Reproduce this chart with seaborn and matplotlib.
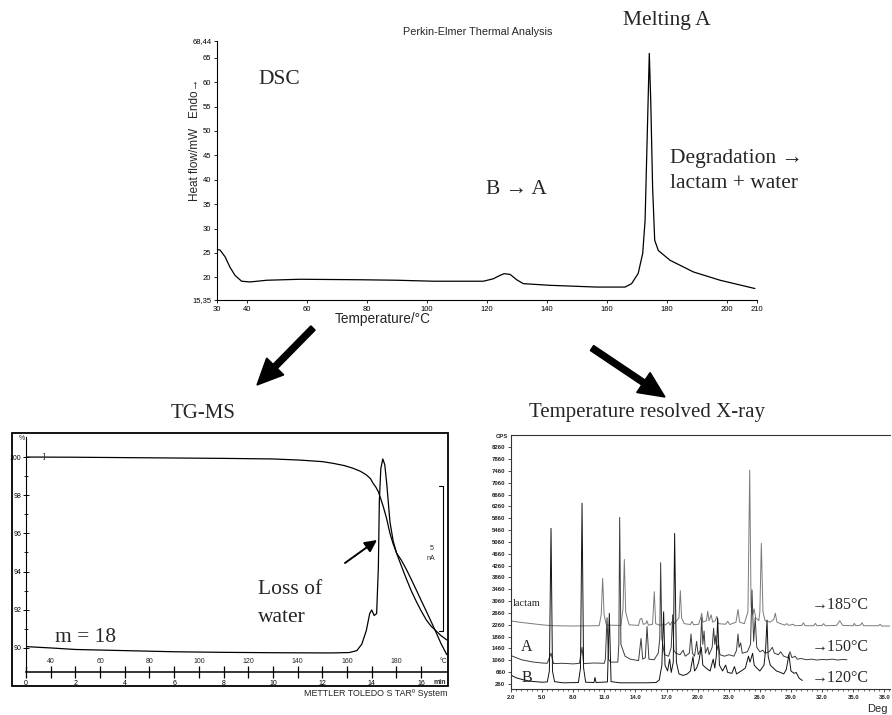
import matplotlib
matplotlib.use("Agg")
import matplotlib.pyplot as plt
import seaborn as sns
from matplotlib.patches import Rectangle, FancyArrow
from matplotlib.ticker import MultipleLocator

# ---------------- DSC data ----------------
dsc_temp = [30.0, 31.0, 32.7, 34.3, 36.0, 38.2, 41.0, 46.6, 57.7, 77.7, 90.0, 102.1, 118.8,
            122.1, 124.0, 125.7, 127.7, 129.9, 132.1, 141.0, 156.6, 166.0, 168.2, 170.4,
            171.9, 172.7, 173.4, 174.1, 174.6, 175.2, 175.9, 177.1, 181.0, 188.8, 197.7, 209.3]
dsc_heat = [25.7, 25.6, 24.2, 22.1, 20.4, 19.2, 19.05, 19.4, 19.6, 19.5, 19.4, 19.2, 19.2,
            19.7, 20.3, 20.75, 20.6, 19.5, 18.7, 18.36, 18.0, 18.0, 18.7, 20.8,
            24.9, 31.7, 48.8, 65.9, 55.7, 38.5, 27.6, 25.5, 23.5, 21.1, 19.4, 17.7]
dsc_xticks = [30, 40, 60, 80, 100, 120, 140, 160, 180, 200, 210]
dsc_yticks = [15.35, 20, 25, 30, 35, 40, 45, 50, 55, 60, 65, 68.44]
dsc_yticklabels = ["15,35", "20", "25", "30", "35", "40", "45", "50", "55", "60", "65", "68,44"]

# ---------------- TG-MS data (time in min) ----------------
tg_min = [0, 2, 4, 6, 8, 10, 11.1, 12.0, 12.44, 12.9, 13.25, 13.55, 13.79, 13.95, 14.06, 14.17,
          14.27, 14.37, 14.47, 14.6, 14.74, 14.87, 15.01, 15.2, 15.41, 15.6, 15.82, 16.0,
          16.22, 16.4, 16.56, 16.8, 17.04]
tg_mass = [100.0, 99.99, 99.97, 99.95, 99.93, 99.9, 99.84, 99.76, 99.67, 99.55, 99.41, 99.25,
           99.06, 98.87, 98.62, 98.42, 98.18, 97.8, 97.4, 96.8, 96.0, 95.45, 94.96, 94.3, 93.6,
           93.0, 92.4, 91.95, 91.45, 91.15, 90.95, 90.65, 90.42]
ms_min = [0, 1, 2, 4, 6, 8, 10, 12, 12.44, 13.1, 13.4, 13.6, 13.78, 13.92, 14.0, 14.1, 14.2,
          14.27, 14.31, 14.37, 14.45, 14.53, 14.61, 14.74, 14.87, 15.01, 15.2, 15.41, 15.6,
          15.82, 16.0, 16.22, 16.4, 16.56, 16.8, 17.04]
ms_signal = [90.07, 90.0, 89.92, 89.86, 89.8, 89.77, 89.75, 89.74, 89.74, 89.76, 89.86, 90.2,
             90.9, 91.8, 91.99, 91.7, 91.8, 94.2, 97.7, 99.4, 99.9, 99.6, 98.6, 96.6, 95.6,
             94.96, 94.6, 94.1, 93.6, 93.0, 92.5, 91.9, 91.4, 90.95, 90.25, 89.65]
tg_yticks = [90, 92, 94, 96, 98, 100]
tg_yminor = [91, 93, 95, 97, 99]
tg_min_ticks = [0, 1, 2, 3, 4, 5, 6, 7, 8, 9, 10, 11, 12, 13, 14, 15, 16]
tg_min_labels = ["0", "", "2", "", "4", "", "6", "", "8", "", "10", "", "12", "", "14", "", "16"]
tg_temp_labels = ["40", "60", "80", "100", "120", "140", "160", "180"]
tg_temp_at_min = [1, 3, 5, 7, 9, 11, 13, 15]

# ---------------- X-ray data ----------------
xrd_b_deg = [2.0, 2.5, 3.0, 3.5, 4.0, 5.0, 5.5, 5.7, 5.86, 6.0, 6.2, 7.0, 8.5, 8.7, 8.85, 9.0, 9.2,
             10.0, 10.1, 10.2, 11.3, 11.48, 11.65, 12.5, 15.0, 16.0, 16.3, 16.55, 16.72, 16.85,
             17.1, 17.3, 17.45, 17.65, 17.78, 17.95, 18.2, 18.6, 19.0, 19.3, 19.55, 19.7, 19.9,
             20.1, 20.35, 20.5, 20.8, 21.2, 21.5, 21.65, 21.8, 21.93, 22.1, 22.4, 22.7, 22.9,
             23.3, 23.55, 23.75, 24.2, 24.6, 24.9, 25.05, 25.3, 25.45, 25.7, 26.0, 26.4, 26.55,
             26.69, 26.8, 27.0, 27.3, 27.6, 28.0, 28.3, 28.55, 28.8, 29.0, 29.3, 29.5, 29.8, 30.1]
xrd_b_cps = [560, 470, 420, 380, 350, 320, 330, 700, 5520, 700, 340, 300, 310, 800, 6370, 800, 320,
             310, 480, 310, 330, 2650, 340, 300, 300, 310, 400, 900, 2700, 900,
             700, 1100, 650, 1000, 5350, 1000, 600, 550, 600, 700, 1180, 700, 800,
             1000, 1500, 900, 800, 700, 1100, 800, 1200, 2480, 900, 700, 900, 650,
             620, 850, 600, 700, 800, 1200, 1000, 1300, 900, 800, 700, 900, 1400,
             2420, 1200, 900, 800, 700, 650, 600, 750, 1250, 700, 620, 650, 450, 380]
xrd_a_deg = [2.0, 2.5, 3.0, 4.0, 5.0, 5.5, 5.86, 6.1, 7.0, 8.0, 8.6, 8.85, 9.0, 10.0, 11.0, 11.1,
             11.26, 11.4, 11.6, 12.3, 12.4, 12.48, 12.6, 12.8, 13.0, 13.5, 14.3, 14.54, 14.7,
             14.95, 15.12, 15.3, 15.8, 16.2, 16.35, 16.43, 16.55, 16.8, 17.2, 17.45, 17.59,
             17.7, 17.9, 18.3, 18.6, 18.8, 19.2, 19.36, 19.5, 19.7, 19.9, 20.05, 20.25, 20.39,
             20.5, 20.62, 20.75, 20.97, 21.1, 21.4, 21.54, 21.65, 21.75, 21.85, 22.0, 22.15,
             22.6, 23.0, 23.5, 23.75, 23.89, 24.0, 24.15, 24.3, 24.8, 25.1, 25.24, 25.4, 25.55,
             25.7, 26.0, 26.3, 26.5, 26.9, 27.2, 27.4, 27.8, 28.0, 28.3, 28.7, 28.9, 29.1, 29.4,
             29.6, 30.0, 30.5, 31.0, 31.5, 32.0, 32.5, 33.0, 33.5, 34.0, 34.4]
xrd_a_cps = [1220, 1150, 1080, 1010, 970, 960, 1300, 950, 960, 940, 960, 1500, 950, 970, 960, 1100,
             2500, 1100, 1000, 1000, 1600, 5890, 1600, 1400, 1200, 1100, 1050, 1800, 1100,
             1150, 2200, 1100, 1080, 1300, 1800, 4360, 1800, 1250, 1200, 1500, 2600,
             1400, 1300, 1250, 1400, 1200, 1300, 1950, 1300, 1200, 1700, 1250, 1400, 2500,
             1600, 2050, 1300, 1500, 1250, 1500, 2150, 1600, 1900, 1400, 1600, 1250,
             1200, 1250, 1200, 1400, 1950, 1500, 1650, 1300, 1350, 1600, 3440, 1700, 2500,
             1500, 1350, 1400, 1300, 1350, 1500, 1300, 1250, 1350, 1200, 1150, 1350, 1150, 1200,
             1100, 1120, 1080, 1100, 1070, 1090, 1080, 1100, 1070, 1090, 1080]
xrd_l_deg = [2.0, 3.0, 4.0, 5.0, 6.0, 8.0, 10.5, 10.7, 10.84, 10.98, 11.2, 12.6, 12.8, 12.93,
             13.06, 13.2, 13.4, 14.3, 14.45, 14.6, 14.75, 15.0, 15.1, 15.25, 15.65, 15.82,
             15.95, 16.3, 16.9, 17.2, 17.35, 17.6, 17.75, 18.2, 18.33, 18.45, 18.7, 19.3,
             19.45, 19.6, 20.1, 20.3, 20.39, 20.5, 20.85, 20.97, 21.1, 21.3, 21.45, 21.7,
             21.85, 22.0, 22.7, 22.9, 23.1, 23.7, 23.89, 24.05, 24.5, 24.85, 25.02, 25.15,
             25.3, 25.45, 25.6, 25.9, 26.0, 26.14, 26.3, 26.5, 27.0, 27.35, 27.49, 27.65,
             28.0, 28.4, 28.6, 28.8, 29.2, 29.4, 30.05, 30.2, 30.35, 31.2, 31.35, 31.5, 32.0,
             32.15, 32.3, 33.4, 33.7, 34.0, 35.0, 35.1, 35.25, 35.7, 35.85, 36.0, 37.45, 37.6,
             37.75, 38.55]
xrd_l_cps = [2390, 2340, 2300, 2260, 2230, 2220, 2230, 2600, 3830, 2600, 2250, 2240, 2800, 4470,
             2700, 2500, 2260, 2240, 2450, 2480, 2280, 2300, 2400, 2250, 2280, 3380,
             2300, 2250, 2260, 2350, 2250, 2400, 2300, 2500, 3415, 2500, 2300, 2270,
             2380, 2260, 2280, 2500, 2650, 2350, 2400, 2720, 2400, 2600, 2350, 2400,
             2550, 2300, 2280, 2380, 2270, 2350, 2780, 2350, 2300, 2700, 7490, 2900,
             2600, 2800, 2500, 2400, 2700, 5015, 2700, 2400, 2350, 2450, 2650, 2350,
             2300, 2250, 2300, 2240, 2280, 2230, 2240, 2330, 2230, 2230, 2310, 2230, 2240,
             2300, 2230, 2240, 2400, 2240, 2230, 2310, 2230, 2250, 2330, 2230, 2230, 2280,
             2220, 2220]
xrd_xticks = [2.0, 5.0, 8.0, 11.0, 14.0, 17.0, 20.0, 23.0, 26.0, 29.0, 32.0, 35.0, 38.0]
xrd_yticks = [260, 660, 1060, 1460, 1860, 2260, 2660, 3060, 3460, 3860, 4260, 4660, 5060,
              5460, 5860, 6260, 6660, 7060, 7460, 7860, 8260]

# ---------------- layout helpers ----------------
W, H = 892, 715
def box(x0, y0, x1, y1):
    return [x0 / W, 1 - y1 / H, (x1 - x0) / W, (y1 - y0) / H]

sns.set_theme(style="ticks")
plt.rcParams['font.family'] = ['Liberation Sans', 'DejaVu Sans']
SERIF = ['Liberation Serif', 'DejaVu Serif']

fig = plt.figure(figsize=(W / 100, H / 100), dpi=100)
fig.patch.set_facecolor('white')

# ---------------- DSC ----------------
ax1 = fig.add_axes(box(217, 41, 757, 300))
ax1.patch.set_alpha(0)
sns.lineplot(x=dsc_temp, y=dsc_heat, ax=ax1, color='black', lw=0.9, estimator=None, sort=False)
ax1.set_xlim(30, 210)
ax1.set_ylim(15.35, 68.44)
for s in ['top', 'right']:
    ax1.spines[s].set_visible(False)
for s in ['left', 'bottom']:
    ax1.spines[s].set_color('black')
    ax1.spines[s].set_linewidth(0.8)
ax1.set_xticks(dsc_xticks)
ax1.set_xticklabels([str(v) for v in dsc_xticks])
ax1.set_yticks(dsc_yticks)
ax1.set_yticklabels(dsc_yticklabels)
ax1.tick_params(direction='out', length=2, width=0.6, pad=2, labelsize=5.5, color='black', labelcolor='black')
ax1.set_xlabel('')
ax1.set_ylabel('')

# ---------------- TG-MS ----------------
ax2 = fig.add_axes(box(26, 437, 447, 672))
ax2.patch.set_alpha(0)
sns.lineplot(x=tg_min, y=tg_mass, ax=ax2, color='black', lw=0.9, estimator=None, sort=False)
sns.lineplot(x=ms_min, y=ms_signal, ax=ax2, color='black', lw=0.9, estimator=None, sort=False)
ax2.set_xlim(0, 17.05)
ax2.set_ylim(88.74, 101.05)
for s in ['top', 'right']:
    ax2.spines[s].set_visible(False)
ax2.spines['left'].set_color('black')
ax2.spines['left'].set_linewidth(0.8)
ax2.spines['bottom'].set_color('black')
ax2.spines['bottom'].set_linewidth(1.1)
ax2.set_yticks(tg_yticks)
ax2.set_yticklabels([str(v) for v in tg_yticks])
ax2.set_yticks(tg_yminor, minor=True)
ax2.set_xticks(tg_min_ticks)
ax2.set_xticklabels(tg_min_labels)
ax2.tick_params(axis='y', which='major', direction='inout', length=5, width=0.7, pad=1, labelsize=5, color='black', labelcolor='black')
ax2.tick_params(axis='y', which='minor', direction='inout', length=3, width=0.6, color='black')
ax2.tick_params(axis='x', which='major', direction='inout', length=9, width=0.9, pad=1, labelsize=5, color='black', labelcolor='black')
for lbl, t in zip(tg_temp_labels, tg_temp_at_min):
    ax2.text(t, 89.27, lbl, ha='center', va='center', fontsize=5)
ax2.text(16.9, 89.27, "°C", ha='center', va='center', fontsize=5)
ax2.set_xlabel('')
ax2.set_ylabel('')

# ---------------- X-ray ----------------
ax3 = fig.add_axes(box(511, 435, 890, 689))
ax3.patch.set_alpha(0)
sns.lineplot(x=xrd_l_deg, y=xrd_l_cps, ax=ax3, color='#7a7a7a', lw=0.7, estimator=None, sort=False)
sns.lineplot(x=xrd_a_deg, y=xrd_a_cps, ax=ax3, color='#3c3c3c', lw=0.7, estimator=None, sort=False)
sns.lineplot(x=xrd_b_deg, y=xrd_b_cps, ax=ax3, color='#111111', lw=0.7, estimator=None, sort=False)
ax3.set_xlim(2.0, 38.55)
ax3.set_ylim(91, 8676)
ax3.spines['right'].set_visible(False)
for s in ['top', 'left', 'bottom']:
    ax3.spines[s].set_color('#333333')
    ax3.spines[s].set_linewidth(0.8)
ax3.set_xticks(xrd_xticks)
ax3.set_xticklabels([f"{v:.1f}" for v in xrd_xticks], fontweight='bold')
ax3.xaxis.set_minor_locator(MultipleLocator(0.5))
ax3.set_yticks(xrd_yticks)
ax3.set_yticklabels([str(v) for v in xrd_yticks], fontweight='bold')
ax3.tick_params(which='major', direction='out', length=2, width=0.6, pad=2, labelsize=4.3, color='#333333', labelcolor='#222222')
ax3.tick_params(which='minor', direction='out', length=1.2, width=0.5, color='#333333')
ax3.set_xlabel('')
ax3.set_ylabel('')

# ---------------- overlay (annotations in pixel units) ----------------
axo = fig.add_axes([0, 0, 1, 1], zorder=10)
axo.set_xlim(0, W)
axo.set_ylim(H, 0)
axo.axis('off')
axo.patch.set_alpha(0)

# DSC texts
axo.text(478, 32, "Perkin-Elmer Thermal Analysis", ha='center', va='center', fontsize=7.8)
axo.text(667, 20, "Melting A", ha='center', va='center', fontsize=15.5, family=SERIF)
axo.text(258, 80, "DSC", ha='left', va='center', fontsize=15.5, family=SERIF)
axo.text(516, 189, "B \u2192 A", ha='center', va='center', fontsize=15.5, family=SERIF)
axo.text(670, 158, "Degradation \u2192", ha='left', va='center', fontsize=15.5, family=SERIF)
axo.text(670, 184, "lactam + water", ha='left', va='center', fontsize=15.5, family=SERIF)
axo.text(195, 140, "Heat flow/mW   Endo\u2192", ha='center', va='center', rotation=90, fontsize=8.5)
axo.text(383, 319, "Temperature/°C", ha='center', va='center', fontsize=9.8)

# big arrows
axo.add_patch(FancyArrow(313, 328, 257 - 313, 385 - 328, width=6, head_width=24, head_length=26,
                         length_includes_head=True, color='black'))
axo.add_patch(FancyArrow(592, 348, 665 - 592, 397 - 348, width=6, head_width=24, head_length=26,
                         length_includes_head=True, color='black'))

# TG-MS texts
axo.text(203, 413, "TG-MS", ha='center', va='center', fontsize=15, family=SERIF)
axo.add_patch(Rectangle((12, 433), 436, 253, fill=False, lw=1.3, ec='black'))
axo.text(22, 438, "%", ha='center', va='center', fontsize=5)
axo.text(44, 457, "]", ha='center', va='center', fontsize=6)
axo.plot([443, 443], [486, 631], color='black', lw=0.8)
axo.plot([439, 443], [486, 486], color='black', lw=0.8)
axo.plot([439, 443], [631, 631], color='black', lw=0.8)
axo.text(432, 549, "5", ha='center', va='center', fontsize=5)
axo.text(431, 558, "nA", ha='center', va='center', fontsize=5)
axo.text(440, 682, "min", ha='center', va='center', fontsize=5, fontweight='bold')
axo.text(447, 694, "METTLER TOLEDO S TAR\u00ba System", ha='right', va='center', fontsize=6.4)
axo.text(258, 590, "Loss of", ha='left', va='center', fontsize=15.5, family=SERIF)
axo.text(258, 617, "water", ha='left', va='center', fontsize=15.5, family=SERIF)
axo.text(55, 638, "m = 18", ha='left', va='center', fontsize=15.5, family=SERIF)
axo.annotate("", xy=(377, 540), xytext=(345, 563),
             arrowprops=dict(arrowstyle="-|>,head_length=0.6,head_width=0.3", lw=1.4, color='black',
                             shrinkA=0, shrinkB=0))

# X-ray texts
axo.text(647, 413, "Temperature resolved X-ray", ha='center', va='center', fontsize=15, family=SERIF)
axo.text(502, 436, "CPS", ha='center', va='center', fontsize=4.3, fontweight='bold')
axo.text(877, 709, "Deg", ha='center', va='center', fontsize=8)
axo.text(513, 603, "lactam", ha='left', va='center', fontsize=7.5, family=SERIF)
axo.text(527, 647, "A", ha='center', va='center', fontsize=11.5, family=SERIF)
axo.text(527, 678, "B", ha='center', va='center', fontsize=11.5, family=SERIF)
axo.text(812, 605, "\u2192185°C", ha='left', va='center', fontsize=11.5, family=SERIF)
axo.text(812, 647, "\u2192150°C", ha='left', va='center', fontsize=11.5, family=SERIF)
axo.text(812, 678, "\u2192120°C", ha='left', va='center', fontsize=11.5, family=SERIF)

fig.savefig("out.png", dpi=100, facecolor='white')
